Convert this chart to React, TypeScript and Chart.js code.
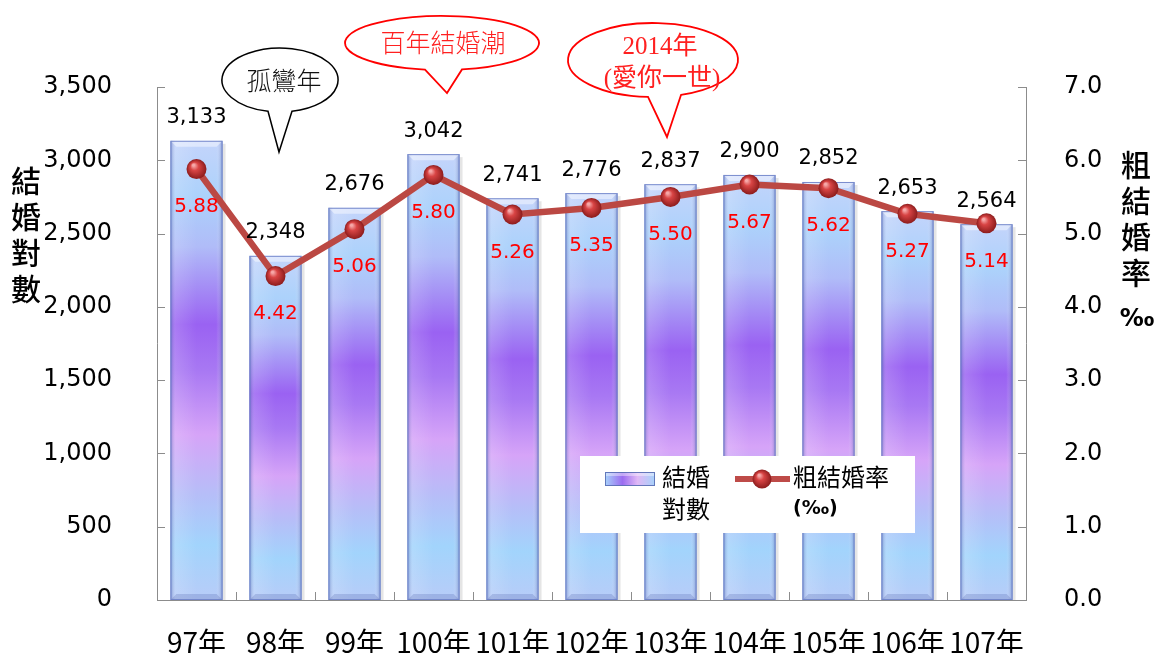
import React, { useEffect, useRef } from "react";
import { Chart, registerables } from "chart.js";

Chart.register(...registerables);

const categories = ["97年", "98年", "99年", "100年", "101年", "102年", "103年", "104年", "105年", "106年", "107年"];
const marriageCounts = [3133, 2348, 2676, 3042, 2741, 2776, 2837, 2900, 2852, 2653, 2564];
const marriageRates = [5.88, 4.42, 5.06, 5.8, 5.26, 5.35, 5.5, 5.67, 5.62, 5.27, 5.14];
const leftAxisTitle = ["結", "婚", "對", "數"];
const rightAxisTitle = ["粗", "結", "婚", "率"];
const rightAxisUnit = "‰";
const barLegendLines = ["結婚", "對數"];
const lineLegendLines = ["粗結婚率", "(‰)"];
const calloutSingle = "孤鸞年";
const calloutBoom = "百年結婚潮";
const calloutLove = ["2014年", "(愛你一世)"];

const W = 1154;
const H = 653;
const AREA = { left: 157, right: 1026, top: 87, bottom: 600 };

const NUM_FONT = '"DejaVu Sans", "Noto Sans CJK TC", sans-serif';
const CJK_FONT = '"Noto Sans CJK TC", "DejaVu Sans", sans-serif';
const SERIF_FONT = '"Liberation Serif", "Noto Sans CJK TC", serif';

function barGradient(ctx: CanvasRenderingContext2D, top: number, base: number) {
  const g = ctx.createLinearGradient(0, top, 0, base);
  g.addColorStop(0, "#c4d4fb");
  g.addColorStop(0.12, "#acd2fb");
  g.addColorStop(0.23, "#b0bcf8");
  g.addColorStop(0.4, "#9a62f2");
  g.addColorStop(0.5, "#a878f3");
  g.addColorStop(0.64, "#d6a4f8");
  g.addColorStop(0.77, "#b6bef8");
  g.addColorStop(0.88, "#a2d4fc");
  g.addColorStop(1, "#b8ccf8");
  return g;
}

function drawBevel(ctx: CanvasRenderingContext2D, x: number, top: number, base: number, w: number) {
  const l = x - w / 2;
  const r = x + w / 2;
  const h = base - top;
  ctx.save();
  ctx.fillStyle = "rgba(0,0,0,0.10)";
  ctx.fillRect(r, top + 3, 3, h - 3);
  const g = ctx.createLinearGradient(l, 0, r, 0);
  g.addColorStop(0, "rgba(60,80,160,0.45)");
  g.addColorStop(0.1, "rgba(255,255,255,0.15)");
  g.addColorStop(0.5, "rgba(255,255,255,0)");
  g.addColorStop(0.88, "rgba(255,255,255,0)");
  g.addColorStop(1, "rgba(60,80,160,0.45)");
  ctx.fillStyle = g;
  ctx.fillRect(l, top, w, h);
  const b = 6;
  ctx.beginPath();
  ctx.moveTo(l, top);
  ctx.lineTo(r, top);
  ctx.lineTo(r - b, top + b);
  ctx.lineTo(l + b, top + b);
  ctx.closePath();
  ctx.fillStyle = "rgba(255,255,255,0.45)";
  ctx.fill();
  ctx.beginPath();
  ctx.moveTo(l, base);
  ctx.lineTo(r, base);
  ctx.lineTo(r - b, base - b);
  ctx.lineTo(l + b, base - b);
  ctx.closePath();
  ctx.fillStyle = "rgba(80,100,170,0.25)";
  ctx.fill();
  ctx.strokeStyle = "rgba(110,130,200,0.9)";
  ctx.lineWidth = 1;
  ctx.strokeRect(l + 0.5, top + 0.5, w - 1, h - 1);
  ctx.restore();
}

function callout(
  ctx: CanvasRenderingContext2D,
  cx: number, cy: number, rx: number, ry: number,
  bx1: number, bx2: number, tipX: number, tipY: number,
  stroke: string, lw: number
) {
  const t1 = Math.acos(Math.max(-1, Math.min(1, (bx1 - cx) / rx)));
  const t2 = Math.acos(Math.max(-1, Math.min(1, (bx2 - cx) / rx)));
  ctx.save();
  ctx.beginPath();
  ctx.ellipse(cx, cy, rx, ry, 0, t1, Math.PI * 2 + t2, false);
  ctx.lineTo(tipX, tipY);
  ctx.closePath();
  ctx.fillStyle = "#ffffff";
  ctx.fill();
  ctx.strokeStyle = stroke;
  ctx.lineWidth = lw;
  ctx.stroke();
  ctx.restore();
}

function ball(ctx: CanvasRenderingContext2D, px: number, py: number, r: number) {
  const g = ctx.createRadialGradient(px - r * 0.3, py - r * 0.4, 1, px, py, r);
  g.addColorStop(0, "#f6a8a8");
  g.addColorStop(0.35, "#d84444");
  g.addColorStop(1, "#8c1c1c");
  return g;
}

const decorPlugin = {
  id: "decor",
  beforeDatasetsDraw(chart: any) {
    const ctx: CanvasRenderingContext2D = chart.ctx;
    const { left, right, top, bottom } = chart.chartArea;
    const xs = chart.scales.x;
    const ys = chart.scales.y;
    const y1 = chart.scales.y1;
    ctx.save();
    ctx.strokeStyle = "#8c8c8c";
    ctx.lineWidth = 1;
    ctx.beginPath();
    ctx.moveTo(left + 0.5, top);
    ctx.lineTo(left + 0.5, bottom + 0.5);
    ctx.lineTo(right + 0.5, bottom + 0.5);
    ctx.lineTo(right + 0.5, top);
    for (const t of ys.ticks) {
      const py = Math.round(ys.getPixelForValue(t.value)) + 0.5;
      ctx.moveTo(left, py);
      ctx.lineTo(left + 8, py);
    }
    for (const t of y1.ticks) {
      const py = Math.round(y1.getPixelForValue(t.value)) + 0.5;
      ctx.moveTo(right - 8, py);
      ctx.lineTo(right + 1, py);
    }
    for (let i = 0; i < categories.length - 1; i++) {
      const px = Math.round((xs.getPixelForValue(i) + xs.getPixelForValue(i + 1)) / 2) + 0.5;
      ctx.moveTo(px, bottom);
      ctx.lineTo(px, bottom - 8);
    }
    ctx.stroke();
    ctx.restore();
  },
  afterDatasetDraw(chart: any, args: any) {
    if (args.index !== 0) return;
    const ctx: CanvasRenderingContext2D = chart.ctx;
    for (const el of args.meta.data) {
      drawBevel(ctx, el.x, el.y, el.base, el.width);
    }
  },
  afterDatasetsDraw(chart: any) {
    const ctx: CanvasRenderingContext2D = chart.ctx;
    const barMeta = chart.getDatasetMeta(0);
    const lineMeta = chart.getDatasetMeta(1);
    ctx.save();
    ctx.textAlign = "center";
    ctx.textBaseline = "middle";
    ctx.font = `21px ${NUM_FONT}`;
    ctx.fillStyle = "#000";
    barMeta.data.forEach((el: any, i: number) => {
      ctx.fillText(marriageCounts[i].toLocaleString("en-US"), el.x, el.y - 23);
    });
    ctx.font = `20px ${NUM_FONT}`;
    ctx.fillStyle = "#ff0000";
    lineMeta.data.forEach((el: any, i: number) => {
      ctx.fillText(marriageRates[i].toFixed(2), el.x, el.y + 38);
    });
    ctx.restore();
  },
  afterDraw(chart: any) {
    const ctx: CanvasRenderingContext2D = chart.ctx;
    ctx.save();
    ctx.textAlign = "center";
    ctx.textBaseline = "middle";
    // axis titles
    ctx.fillStyle = "#000";
    ctx.font = `500 30px ${CJK_FONT}`;
    leftAxisTitle.forEach((c, i) => ctx.fillText(c, 26, 181 + i * 36));
    rightAxisTitle.forEach((c, i) => ctx.fillText(c, 1136, 165 + i * 36));
    ctx.font = `bold 24px ${NUM_FONT}`;
    ctx.fillText(rightAxisUnit, 1137, 320);

    // legend
    ctx.fillStyle = "#ffffff";
    ctx.fillRect(580, 456, 335, 77);
    const ig = ctx.createLinearGradient(605, 0, 655, 0);
    ig.addColorStop(0, "#a6d2fa");
    ig.addColorStop(0.35, "#9b6cf0");
    ig.addColorStop(0.65, "#e0b8f6");
    ig.addColorStop(1, "#a6d2fa");
    ctx.fillStyle = ig;
    ctx.fillRect(605, 472, 50, 14);
    ctx.fillStyle = "rgba(255,255,255,0.4)";
    ctx.fillRect(606, 473, 48, 3);
    ctx.strokeStyle = "rgba(90,110,180,0.9)";
    ctx.lineWidth = 1;
    ctx.strokeRect(605.5, 472.5, 49, 13);
    ctx.strokeStyle = "#be4b48";
    ctx.lineWidth = 6;
    ctx.beginPath();
    ctx.moveTo(735, 479);
    ctx.lineTo(790, 479);
    ctx.stroke();
    ctx.beginPath();
    ctx.arc(762, 479, 9.5, 0, Math.PI * 2);
    ctx.fillStyle = ball(ctx, 762, 479, 9.5);
    ctx.fill();
    ctx.textAlign = "left";
    ctx.fillStyle = "#000";
    ctx.font = `24px ${CJK_FONT}`;
    ctx.fillText(barLegendLines[0], 662, 477);
    ctx.fillText(barLegendLines[1], 662, 509);
    ctx.fillText(lineLegendLines[0], 793, 477);
    ctx.font = `bold 19px ${NUM_FONT}`;
    ctx.fillText(lineLegendLines[1], 793, 509);

    // callouts
    callout(ctx, 280, 80, 58, 32, 268, 292, 279, 152, "#000000", 1.5);
    ctx.textAlign = "center";
    ctx.fillStyle = "#111";
    ctx.font = `300 25px ${CJK_FONT}`;
    ctx.fillText(calloutSingle, 284, 80);

    callout(ctx, 442, 43, 97, 27, 425, 462, 447, 93, "#ff0000", 1.8);
    ctx.fillStyle = "#ff2020";
    ctx.font = `300 25px ${CJK_FONT}`;
    ctx.fillText(calloutBoom, 443, 42);

    callout(ctx, 653, 60, 85, 37, 648, 681, 667, 137, "#ff0000", 1.8);
    ctx.fillStyle = "#ff2020";
    ctx.font = `25px ${SERIF_FONT}`;
    ctx.fillText(calloutLove[0], 660, 47);
    ctx.fillText(calloutLove[1], 662, 79);
    ctx.restore();
  },
};

export default function App() {
  const canvasRef = useRef<HTMLCanvasElement | null>(null);

  useEffect(() => {
    const canvas = canvasRef.current;
    if (!canvas) return;
    const chart = new Chart(canvas, {
      type: "bar",
      data: {
        labels: categories,
        datasets: [
          {
            type: "bar",
            label: "結婚對數",
            data: marriageCounts,
            yAxisID: "y",
            order: 1,
            barPercentage: 0.66,
            categoryPercentage: 1,
            borderWidth: 0,
            backgroundColor: (c: any) => {
              const chartObj = c.chart;
              const ys = chartObj.scales && chartObj.scales.y;
              if (c.type !== "data" || !ys) return "#b090f0";
              const top = ys.getPixelForValue(marriageCounts[c.dataIndex]);
              const base = ys.getPixelForValue(0);
              if (!isFinite(top) || !isFinite(base) || base <= top) return "#b090f0";
              return barGradient(chartObj.ctx, top, base);
            },
          },
          {
            type: "line",
            label: "粗結婚率(‰)",
            data: marriageRates,
            yAxisID: "y1",
            order: 0,
            borderColor: "#bb4843",
            borderWidth: 6.5,
            tension: 0,
            pointRadius: 10,
            pointBorderWidth: 0,
            pointBackgroundColor: (c: any) => {
              const chartObj = c.chart;
              const xs = chartObj.scales && chartObj.scales.x;
              const ys = chartObj.scales && chartObj.scales.y1;
              if (c.type !== "data" || !xs || !ys) return "#c03030";
              const px = xs.getPixelForValue(c.dataIndex);
              const py = ys.getPixelForValue(marriageRates[c.dataIndex]);
              if (!isFinite(px) || !isFinite(py)) return "#c03030";
              return ball(chartObj.ctx, px, py, 10);
            },
          },
        ],
      },
      options: {
        responsive: false,
        animation: false,
        devicePixelRatio: 1,
        layout: { padding: { top: AREA.top, left: 0, right: 0, bottom: 0 } },
        plugins: { legend: { display: false }, tooltip: { enabled: false } },
        scales: {
          x: {
            offset: true,
            grid: { display: false },
            border: { display: false },
            ticks: {
              color: "#000",
              font: { family: CJK_FONT, size: 28 },
              padding: 18,
              maxRotation: 0,
              autoSkip: false,
            },
            afterFit: (s: any) => {
              s.height = H - AREA.bottom;
            },
          },
          y: {
            position: "left",
            min: 0,
            max: 3500,
            grid: { display: false },
            border: { display: false },
            ticks: {
              stepSize: 500,
              color: "#000",
              padding: 37,
              font: { family: NUM_FONT, size: 24 },
              callback: (v: any) => Number(v).toLocaleString("en-US"),
            },
            afterFit: (s: any) => {
              s.width = AREA.left;
            },
          },
          y1: {
            position: "right",
            min: 0,
            max: 7,
            grid: { display: false },
            border: { display: false },
            ticks: {
              stepSize: 1,
              color: "#000",
              padding: 30,
              font: { family: NUM_FONT, size: 24 },
              callback: (v: any) => Number(v).toFixed(1),
            },
            afterFit: (s: any) => {
              s.width = W - AREA.right;
            },
          },
        },
      },
      plugins: [decorPlugin],
    } as any);
    return () => chart.destroy();
  }, []);

  return (
    <div style={{ position: "fixed", left: 0, top: 0, width: W, height: H, background: "#fff" }}>
      <canvas ref={canvasRef} width={W} height={H} style={{ display: "block" }} />
    </div>
  );
}
